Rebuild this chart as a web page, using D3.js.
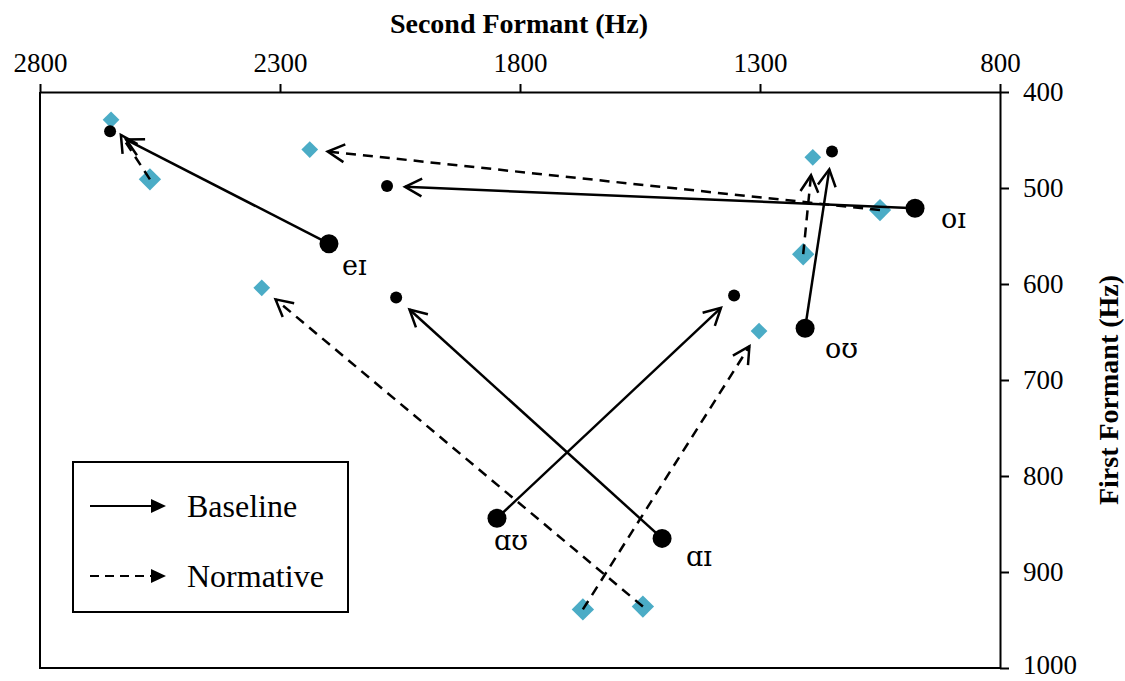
<!DOCTYPE html>
<html>
<head>
<meta charset="utf-8">
<script src="https://cdn.jsdelivr.net/npm/d3@7"></script>
<style>
  body { margin: 0; background: #fff; }
  svg { display: block; }
</style>
</head>
<body>
<svg id="chart"></svg>
<script>
const width = 1125;
const height = 681;

// diphthongs (labels) and formant values, start -> end
const vowels = ["eɪ", "oɪ", "oʊ", "ɑʊ", "ɑɪ"];

const baseStartF2 = [2198, 977, 1206, 1848, 1504];
const baseStartF1 = [558, 521, 646, 844, 865];
const baseEndF2 = [2654, 2077, 1150, 1354, 2058];
const baseEndF1 = [441, 498, 462, 612, 614];

const normStartF2 = [2571, 1050, 1210, 1669, 1544];
const normStartF1 = [491, 523, 569, 939, 936];
const normEndF2 = [2652, 2238, 1190, 1302, 2338];
const normEndF1 = [429, 460, 468, 649, 604];

const f2Ticks = [2800, 2300, 1800, 1300, 800];
const f1Ticks = [400, 500, 600, 700, 800, 900, 1000];

const legendItems = ["Baseline", "Normative"];

// label offsets from the baseline start marker (styling only)
const labelOffset = {
  "eɪ": [13, 31], "oɪ": [26, 20], "oʊ": [20, 30], "ɑʊ": [-3, 32], "ɑɪ": [24, 28]
};

const plot = { left: 40, right: 1000, top: 92, bottom: 668 };
const blue = "#4bacc6";
const serif = "'Liberation Serif', 'DejaVu Serif', serif";
const ipa = "'DejaVu Serif', serif";

const svg = d3.select("#chart")
    .attr("width", width)
    .attr("height", height);

const x = d3.scaleLinear().domain([2800, 800]).range([plot.left, plot.right]);
const y = d3.scaleLinear().domain([400, 1000]).range([plot.top, plot.bottom]);

// frame (left + bottom)
svg.append("path")
    .attr("d", `M${plot.left},${plot.top} V${plot.bottom} H${plot.right}`)
    .attr("fill", "none")
    .attr("stroke", "black")
    .attr("stroke-width", 2);

// top axis
const xAxis = svg.append("g")
    .attr("transform", `translate(0, ${plot.top})`)
    .call(d3.axisTop(x).tickValues(f2Ticks).tickFormat(d3.format("d"))
        .tickSize(8).tickSizeOuter(0).tickPadding(12));

// right axis
const yAxis = svg.append("g")
    .attr("transform", `translate(${plot.right}, 0)`)
    .call(d3.axisRight(y).tickValues(f1Ticks).tickFormat(d3.format("d"))
        .tickSize(9).tickSizeOuter(0).tickPadding(14));

[xAxis, yAxis].forEach(g => {
    g.select(".domain").attr("stroke-width", 2);
    g.selectAll(".tick line").attr("stroke-width", 2);
    g.selectAll(".tick text")
        .style("font-family", serif)
        .style("font-size", "27px")
        .attr("fill", "black");
});

// keep the bottom label inside the page
yAxis.selectAll(".tick text")
    .filter(d => d === 1000)
    .attr("dy", "0.22em");

// axis titles
svg.append("text")
    .attr("x", 519)
    .attr("y", 33)
    .attr("text-anchor", "middle")
    .style("font-family", serif)
    .style("font-size", "28px")
    .style("font-weight", "bold")
    .text("Second Formant (Hz)");

svg.append("text")
    .attr("transform", "rotate(-90)")
    .attr("x", -390)
    .attr("y", 1118)
    .attr("text-anchor", "middle")
    .style("font-family", serif)
    .style("font-size", "28px")
    .style("font-weight", "bold")
    .text("First Formant (Hz)");

// build series
const baseline = vowels.map((v, i) => ({
    v, s: [baseStartF2[i], baseStartF1[i]], e: [baseEndF2[i], baseEndF1[i]]
}));
const normative = vowels.map((v, i) => ({
    v, s: [normStartF2[i], normStartF1[i]], e: [normEndF2[i], normEndF1[i]]
}));

// markers
const diamond = size => d3.symbol().type(d3.symbolSquare).size(size)();

normative.forEach(d => {
    svg.append("path")
        .attr("d", diamond(250))
        .attr("transform", `translate(${x(d.s[0])},${y(d.s[1])}) rotate(45)`)
        .attr("fill", blue);
    svg.append("path")
        .attr("d", diamond(140))
        .attr("transform", `translate(${x(d.e[0])},${y(d.e[1])}) rotate(45)`)
        .attr("fill", blue);
});

baseline.forEach(d => {
    svg.append("circle")
        .attr("cx", x(d.s[0])).attr("cy", y(d.s[1]))
        .attr("r", 9.5).attr("fill", "black");
    svg.append("circle")
        .attr("cx", x(d.e[0])).attr("cy", y(d.e[1]))
        .attr("r", 6).attr("fill", "black");
});

// arrows with open heads, stopping short of the end marker
function arrow(d, dashed) {
    const sx = x(d.s[0]), sy = y(d.s[1]);
    const ex = x(d.e[0]), ey = y(d.e[1]);
    const len = Math.hypot(ex - sx, ey - sy);
    const ux = (ex - sx) / len, uy = (ey - sy) / len;
    const gap = 18;
    const tx = ex - ux * gap, ty = ey - uy * gap;

    svg.append("line")
        .attr("x1", sx).attr("y1", sy)
        .attr("x2", tx).attr("y2", ty)
        .attr("stroke", "black")
        .attr("stroke-width", 2.5)
        .attr("stroke-dasharray", dashed ? "10,7" : null);

    const head = 19, ang = 28 * Math.PI / 180;
    const rot = a => [
        tx - head * (ux * Math.cos(a) - uy * Math.sin(a)),
        ty - head * (ux * Math.sin(a) + uy * Math.cos(a))
    ];
    const a1 = rot(ang), a2 = rot(-ang);
    svg.append("path")
        .attr("d", `M${a1[0]},${a1[1]} L${tx},${ty} L${a2[0]},${a2[1]}`)
        .attr("fill", "none")
        .attr("stroke", "black")
        .attr("stroke-width", 2.5);
}

normative.forEach(d => arrow(d, true));
baseline.forEach(d => arrow(d, false));

// diphthong labels
baseline.forEach(d => {
    const off = labelOffset[d.v];
    svg.append("text")
        .attr("x", x(d.s[0]) + off[0])
        .attr("y", y(d.s[1]) + off[1])
        .style("font-family", ipa)
        .style("font-size", "27px")
        .text(d.v);
});

// legend
const legend = svg.append("g").attr("transform", "translate(73, 462)");

legend.append("rect")
    .attr("width", 275)
    .attr("height", 150)
    .attr("fill", "white")
    .attr("stroke", "black")
    .attr("stroke-width", 2);

legendItems.forEach((name, i) => {
    const ly = 44 + i * 70;
    legend.append("line")
        .attr("x1", 17).attr("x2", 80)
        .attr("y1", ly).attr("y2", ly)
        .attr("stroke", "black")
        .attr("stroke-width", 2)
        .attr("stroke-dasharray", i === 1 ? "9,6" : null);
    legend.append("path")
        .attr("d", `M78,${ly - 7} L93,${ly} L78,${ly + 7} Z`)
        .attr("fill", "black");
    legend.append("text")
        .attr("x", 114)
        .attr("y", ly + 11)
        .style("font-family", serif)
        .style("font-size", "32px")
        .text(name);
});
</script>
</body>
</html>
